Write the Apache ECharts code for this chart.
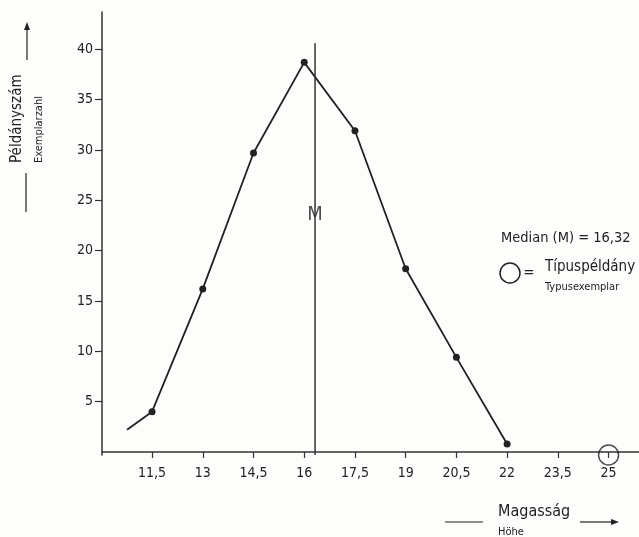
<!DOCTYPE html>
<html><head><meta charset="utf-8">
<script src="https://cdn.jsdelivr.net/npm/echarts@6/dist/echarts.min.js"></script>
<style>html,body{margin:0;padding:0;background:#fdfdfb}#c{width:639px;height:537px}</style>
</head><body><div id="c"></div>
<script>
const heights = [10.76, 11.5, 13, 14.5, 16, 17.5, 19, 20.5, 22];
const counts = [2.2, 4.0, 16.2, 29.7, 38.7, 31.9, 18.2, 9.4, 0.8];
const xTicks = [11.5, 13, 14.5, 16, 17.5, 19, 20.5, 22, 23.5, 25];
const yTicks = [5, 10, 15, 20, 25, 30, 35, 40];
const median = 16.32;
const medianTop = 40.6;
const mLabelY = 23.6;
const typeSpecimen = [[25, -0.3]];

const FONT = '"DejaVu Sans Condensed", "DejaVu Sans", sans-serif';
const INK = '#222';

const chart = echarts.init(document.getElementById('c'));
const lineData = heights.map((h, i) => i === 0 ? {value: [h, counts[i]], symbol: 'none'} : [h, counts[i]]);

function arrowHead(x, y, dir) {
  if (dir === 'up') return {type: 'polygon', shape: {points: [[x, y], [x - 3, y + 8], [x + 3, y + 8]]}, style: {fill: INK}};
  return {type: 'polygon', shape: {points: [[x, y], [x - 8, y - 3], [x - 8, y + 3]]}, style: {fill: INK}};
}

chart.setOption({
  backgroundColor: '#fdfdfb',
  animation: false,
  grid: {left: 102, right: 0, top: 12, bottom: 82},
  xAxis: {
    type: 'value', min: 10.02, max: 25.9,
    splitLine: {show: false},
    axisLine: {lineStyle: {color: '#333', width: 1.5}},
    axisTick: {customValues: xTicks, length: 6, lineStyle: {color: '#333', width: 1.2}},
    axisLabel: {customValues: xTicks, formatter: v => String(v).replace('.', ','), fontFamily: FONT, fontSize: 14, color: INK, margin: 11}
  },
  yAxis: {
    type: 'value', min: -0.3, max: 43.7,
    splitLine: {show: false},
    axisLine: {lineStyle: {color: '#333', width: 1.5}},
    axisTick: {customValues: yTicks, length: 7, lineStyle: {color: '#333', width: 1.2}},
    axisLabel: {customValues: yTicks, fontFamily: FONT, fontSize: 14, color: INK, margin: 9}
  },
  series: [
    {type: 'line', data: lineData, symbol: 'circle', symbolSize: 7,
     itemStyle: {color: INK}, lineStyle: {color: INK, width: 1.8}},
    {type: 'line', data: [[median, -0.3], [median, medianTop]], symbol: 'none',
     lineStyle: {color: '#333', width: 1.5}},
    {type: 'scatter', data: [[median, mLabelY]], symbolSize: 0,
     label: {show: true, position: 'inside', formatter: 'M', fontFamily: FONT, fontSize: 20, color: INK}},
    {type: 'scatter', data: typeSpecimen, symbol: 'circle', symbolSize: 20,
     itemStyle: {color: 'rgba(0,0,0,0)', borderColor: INK, borderWidth: 1.5}}
  ],
  graphic: [
    {type: 'text', x: 17, y: 163, rotation: Math.PI / 2,
     style: {text: 'Példányszám', font: '15px ' + FONT, fill: INK, align: 'left', verticalAlign: 'middle'}},
    {type: 'text', x: 39, y: 163, rotation: Math.PI / 2,
     style: {text: 'Exemplarzahl', font: '11px ' + FONT, fill: INK, align: 'left', verticalAlign: 'middle'}},
    {type: 'line', shape: {x1: 27, y1: 60, x2: 27, y2: 28}, style: {stroke: INK, lineWidth: 1.2}},
    arrowHead(27, 22, 'up'),
    {type: 'line', shape: {x1: 26, y1: 173, x2: 26, y2: 212}, style: {stroke: INK, lineWidth: 1.2}},
    {type: 'line', shape: {x1: 445, y1: 522, x2: 483, y2: 522}, style: {stroke: INK, lineWidth: 1.2}},
    {type: 'text', x: 498, y: 512,
     style: {text: 'Magasság', font: '16px ' + FONT, fill: INK, align: 'left', verticalAlign: 'middle'}},
    {type: 'text', x: 498, y: 532,
     style: {text: 'Höhe', font: '11px ' + FONT, fill: INK, align: 'left', verticalAlign: 'middle'}},
    {type: 'line', shape: {x1: 580, y1: 522, x2: 612, y2: 522}, style: {stroke: INK, lineWidth: 1.2}},
    arrowHead(619, 522, 'right'),
    {type: 'text', x: 501, y: 238,
     style: {text: 'Median (M) = 16,32', font: '14.5px ' + FONT, fill: INK, align: 'left', verticalAlign: 'middle'}},
    {type: 'circle', shape: {cx: 510, cy: 273, r: 10}, style: {fill: 'none', stroke: INK, lineWidth: 1.5}},
    {type: 'text', x: 529, y: 273,
     style: {text: '=', font: '15px ' + FONT, fill: INK, align: 'center', verticalAlign: 'middle'}},
    {type: 'text', x: 545, y: 267,
     style: {text: 'Típuspéldány', font: '15px ' + FONT, fill: INK, align: 'left', verticalAlign: 'middle'}},
    {type: 'text', x: 545, y: 287,
     style: {text: 'Typusexemplar', font: '11px ' + FONT, fill: INK, align: 'left', verticalAlign: 'middle'}}
  ]
});
</script>
</body></html>
